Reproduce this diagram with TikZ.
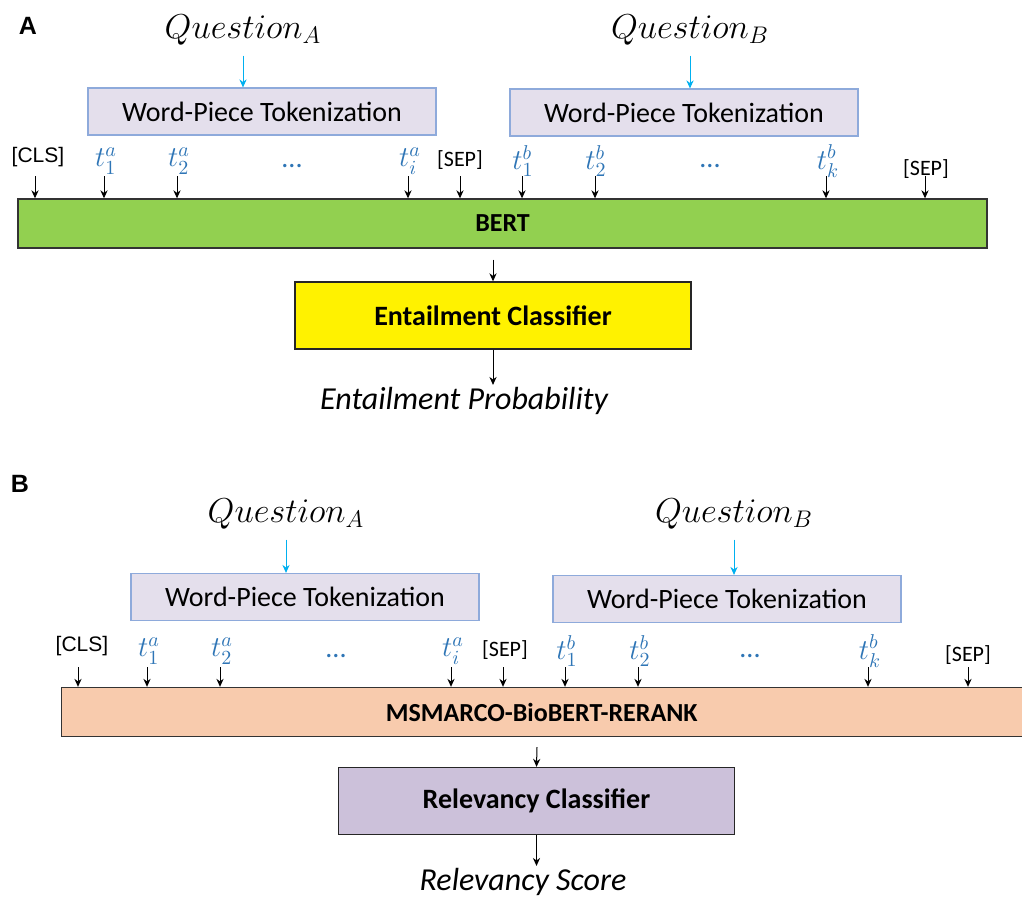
\documentclass[tikz,border=0pt]{standalone}
\usepackage{amsmath}
\usepackage{fontspec}
\setmainfont{Carlito}
\newfontfamily\arialfont{Liberation Sans}
\usepackage{tikz}
\usetikzlibrary{positioning,arrows.meta}

\definecolor{bertgreen}{HTML}{92D050}
\definecolor{wpfill}{HTML}{E4DFEC}
\definecolor{wpedge}{HTML}{8EAADB}
\definecolor{qblue}{HTML}{00B0F0}
\definecolor{tokblue}{HTML}{2E75B6}
\definecolor{rerankfill}{HTML}{F8CBAD}
\definecolor{relfill}{HTML}{CCC1DA}

\begin{document}
\begin{tikzpicture}[x=0.5pt,y=-0.5pt,
  wpbox/.style={draw=wpedge,fill=wpfill,line width=0.6pt,minimum width=174pt,minimum height=23.5pt,font=\fontsize{14}{15}\selectfont},
  model/.style={draw=black!80,line width=0.7pt,minimum height=24.5pt,font=\fontsize{13}{14}\selectfont\bfseries},
  clf/.style={draw=black!85,line width=0.7pt,minimum width=198pt,minimum height=33.5pt,font=\fontsize{14}{15}\selectfont\bfseries},
  quest/.style={inner sep=1pt,font=\fontsize{17}{18}\selectfont},
  tok/.style={inner sep=1pt,text=tokblue,font=\fontsize{14}{15}\selectfont},
  special/.style={inner sep=1pt,font=\fontsize{11}{12}\selectfont},
  clsfont/.style={inner sep=1pt,font=\arialfont\fontsize{10.5}{11}\selectfont},
  outp/.style={inner sep=1pt,font=\fontsize{16}{17}\selectfont\itshape},
  panel/.style={font=\arialfont\bfseries\fontsize{12.5}{13}\selectfont},
  arr/.style={-{Stealth[length=4pt,width=3.6pt]},line width=0.5pt},
  qarr/.style={arr,draw=qblue,-{Stealth[length=4pt,width=3.6pt,fill=qblue]}}
]
\clip (0,0) rectangle (1022,900);

% ---- panel A ----
\node[panel] (labA) at (28,26) {A};
\node[quest] (qa) at (243,30) {$Question_A$};
\node[quest] (qb) at (690,30) {$Question_B$};
\node[wpbox] (wpa) at (262,111.5) {Word-Piece Tokenization};
\node[wpbox] (wpb) at (684,112.5) {Word-Piece Tokenization};
\node[model,fill=bertgreen,minimum width=484.5pt] (bert) at (502.5,223.5) {BERT};
\node[clf,fill=yellow] (ent) at (493,315.5) {Entailment Classifier};
\node[outp] (entp) at (464,401) {Entailment Probability};

\node[clsfont] (clsA) at (38,157) {[CLS]};
\node[tok] (ta1) at (106,161) {$t_1^a$};
\node[tok] (ta2) at (179,161) {$t_2^a$};
\node[tok] (dotsA1) at (292,166) {...};
\node[tok] (tai) at (410,161) {$t_i^a$};
\node[special] (sepA1) at (460,160) {[SEP]};
\node[tok] (tb1) at (523,161) {$t_1^b$};
\node[tok] (tb2) at (596,161) {$t_2^b$};
\node[tok] (dotsA2) at (710,166) {...};
\node[tok] (tbk) at (828,161) {$t_k^b$};
\node[special] (sepA2) at (926,169) {[SEP]};

\draw[qarr] (qa.south) ++(0,8) -- (qa.south |- wpa.north);
\draw[qarr] (qb.south) ++(0,8) -- (qb.south |- wpb.north);
\foreach \t/\x in {clsA/35,ta1/104,ta2/177,tai/408,sepA1/460,tb1/522,tb2/595,tbk/826,sepA2/925}
  \draw[arr] (\x,176) -- (bert.north -| \x,0);
\draw[arr] (bert.south -| ent.north) ++(0,11) -- (ent.north);
\draw[arr] (ent.south) -- (ent.south |- entp.north);

% ---- panel B ----
\node[panel] (labB) at (20,484) {B};
\node[quest] (qa2) at (286,514) {$Question_A$};
\node[quest] (qb2) at (734,514) {$Question_B$};
\node[wpbox] (wpa2) at (305,597) {Word-Piece Tokenization};
\node[wpbox] (wpb2) at (727,599) {Word-Piece Tokenization};
\node[model,fill=rerankfill,minimum width=500pt,anchor=west] (rerank) at (61,712) {\hspace*{-20pt}MSMARCO-BioBERT-RERANK};
\node[clf,fill=relfill] (rel) at (536.5,801) {Relevancy Classifier};
\node[outp] (rels) at (523,882) {Relevancy Score};

\node[clsfont] (clsB) at (82,646) {[CLS]};
\node[tok] (tb_a1) at (149,651) {$t_1^a$};
\node[tok] (tb_a2) at (222,651) {$t_2^a$};
\node[tok] (dotsB1) at (336,656) {...};
\node[tok] (tb_ai) at (453,651) {$t_i^a$};
\node[special] (sepB1) at (505,650) {[SEP]};
\node[tok] (tb_b1) at (567,651) {$t_1^b$};
\node[tok] (tb_b2) at (640,651) {$t_2^b$};
\node[tok] (dotsB2) at (750,656) {...};
\node[tok] (tb_bk) at (870,651) {$t_k^b$};
\node[special] (sepB2) at (968,655) {[SEP]};

\draw[qarr] (qa2.south) ++(0,8) -- (qa2.south |- wpa2.north);
\draw[qarr] (qb2.south) ++(0,8) -- (qb2.south |- wpb2.north);
\foreach \t/\x in {clsB/78,tb_a1/147,tb_a2/220,tb_ai/451,sepB1/503,tb_b1/565,tb_b2/638,tb_bk/868,sepB2/968}
  \draw[arr] (\x,667) -- (rerank.north -| \x,0);
\draw[arr] (537,747) -- (rel.north);
\draw[arr] (rel.south) -- (rel.south |- rels.north);
\end{tikzpicture}
\end{document}
